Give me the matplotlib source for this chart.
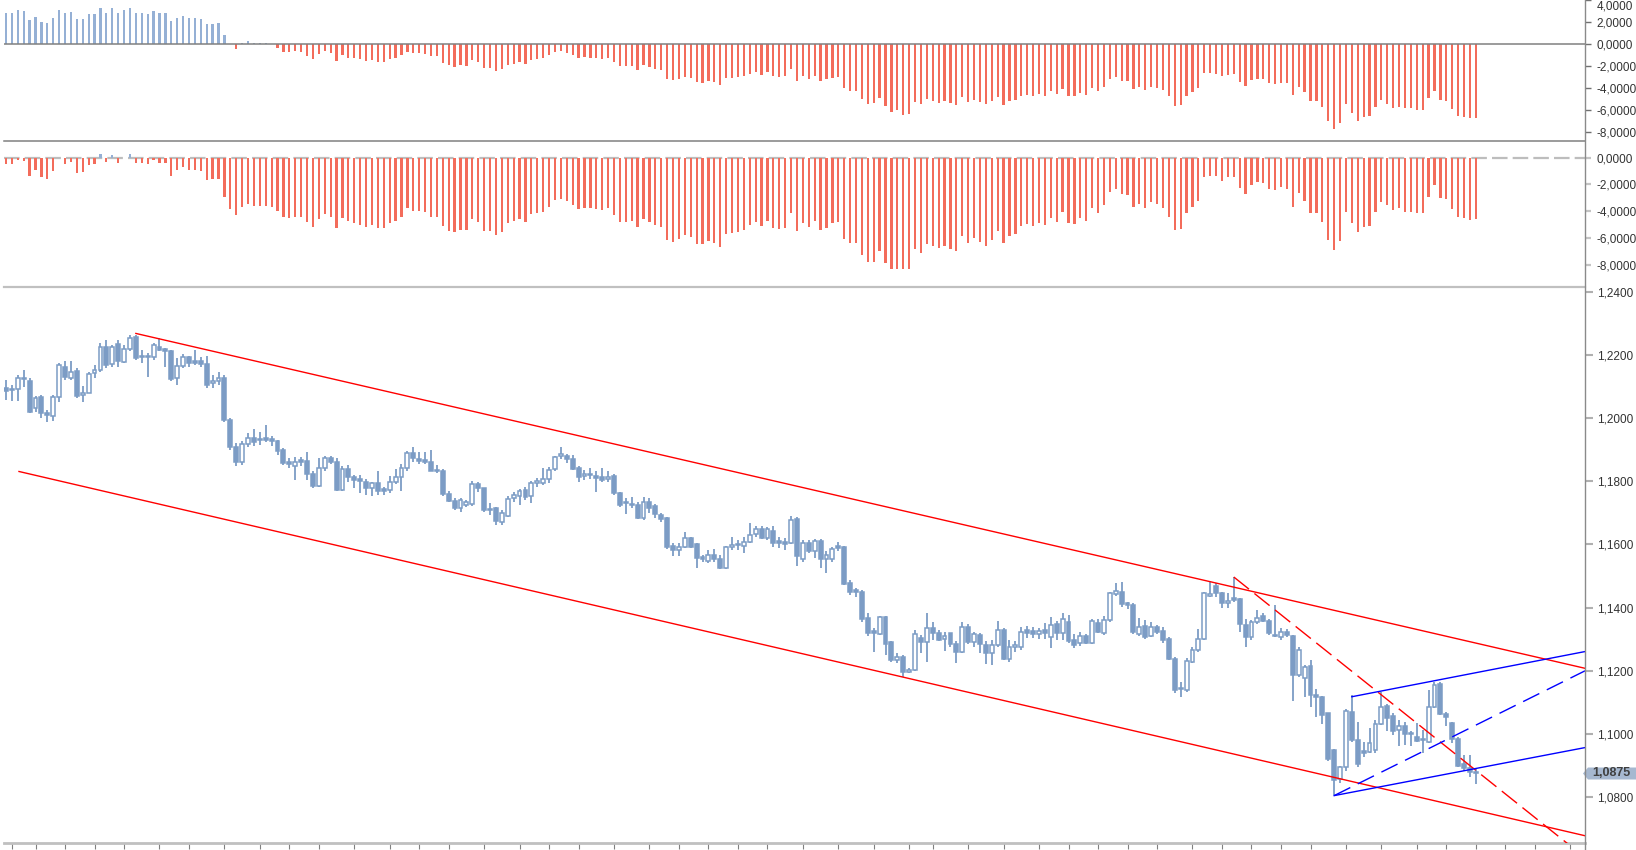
import matplotlib
matplotlib.use("Agg")
import matplotlib.pyplot as plt
import numpy as np
from matplotlib.lines import Line2D
from matplotlib.patches import Polygon
from matplotlib.transforms import blended_transform_factory, ScaledTranslation

plt.rcParams['font.family'] = ['Liberation Sans', 'DejaVu Sans']

# ---------------- data ----------------
opens = [
    1.2095, 1.2089, 1.2091, 1.2128, 1.2116, 1.2031, 1.2068, 1.2012, 1.2008, 1.2066,
    1.2161, 1.2128, 1.2149, 1.2073, 1.2081, 1.2142, 1.2153, 1.2226, 1.2171, 1.2235,
    1.2179, 1.2219, 1.2256, 1.2193, 1.2193, 1.2192, 1.2226, 1.2215, 1.2213, 1.2126,
    1.2166, 1.2193, 1.2178, 1.2182, 1.2171, 1.2110, 1.2118, 1.2126, 1.1994, 1.1907,
    1.1862, 1.1917, 1.1936, 1.1932, 1.1934, 1.1934, 1.1928, 1.1899, 1.1858, 1.1847,
    1.1863, 1.1865, 1.1822, 1.1786, 1.1841, 1.1873, 1.1860, 1.1773, 1.1839, 1.1812,
    1.1804, 1.1799, 1.1780, 1.1793, 1.1772, 1.1771, 1.1799, 1.1814, 1.1841, 1.1889,
    1.1866, 1.1868, 1.1862, 1.1835, 1.1834, 1.1759, 1.1738, 1.1715, 1.1725, 1.1727,
    1.1791, 1.1778, 1.1711, 1.1715, 1.1672, 1.1690, 1.1746, 1.1752, 1.1771, 1.1752,
    1.1796, 1.1794, 1.1807, 1.1838, 1.1880, 1.1880, 1.1870, 1.1841, 1.1817, 1.1824,
    1.1813, 1.1812, 1.1807, 1.1818, 1.1762, 1.1732, 1.1726, 1.1725, 1.1683, 1.1736,
    1.1722, 1.1694, 1.1683, 1.1596, 1.1583, 1.1593, 1.1622, 1.1601, 1.1556, 1.1549,
    1.1567, 1.1553, 1.1525, 1.1592, 1.1597, 1.1596, 1.1609, 1.1633, 1.1648, 1.1620,
    1.1643, 1.1607, 1.1604, 1.1604, 1.1680, 1.1553, 1.1604, 1.1578, 1.1612, 1.1553,
    1.1553, 1.1592, 1.1591, 1.1479, 1.1452, 1.1451, 1.1367, 1.1322, 1.1317, 1.1370,
    1.1290, 1.1233, 1.1245, 1.1195, 1.1203, 1.1305, 1.1290, 1.1337, 1.1319, 1.1300,
    1.1319, 1.1285, 1.1261, 1.1340, 1.1290, 1.1314, 1.1282, 1.1256, 1.1282, 1.1329,
    1.1237, 1.1274, 1.1275, 1.1329, 1.1327, 1.1317, 1.1329, 1.1308, 1.1347, 1.1321,
    1.1354, 1.1298, 1.1287, 1.1310, 1.1287, 1.1351, 1.1321, 1.1361, 1.1443, 1.1451,
    1.1416, 1.1409, 1.1317, 1.1342, 1.1310, 1.1340, 1.1327, 1.1300, 1.1237, 1.1143,
    1.1140, 1.1229, 1.1266, 1.1300, 1.1437, 1.1467, 1.1446, 1.1414, 1.1428, 1.1427,
    1.1345, 1.1306, 1.1356, 1.1372, 1.1359, 1.1312, 1.1308, 1.1324, 1.1310, 1.1187,
    1.1176, 1.1216, 1.1124, 1.1118, 1.1066, 1.0950, 1.0857, 1.0897, 1.1071, 1.0981,
    1.0942, 1.0944, 1.0948, 1.1032, 1.1089, 1.1057, 1.1013, 1.1026, 1.1001, 1.0990,
    1.0982, 1.0976, 1.1085, 1.1159, 1.1064, 1.1034, 1.0983, 1.0905, 1.0892, 1.0878,
]
highs = [
    1.2121, 1.2105, 1.2137, 1.2153, 1.2126, 1.2071, 1.2073, 1.2026, 1.2073, 1.2174,
    1.2181, 1.2181, 1.2158, 1.2102, 1.2147, 1.2168, 1.2237, 1.2248, 1.2232, 1.2248,
    1.2232, 1.2263, 1.2263, 1.2216, 1.2205, 1.2237, 1.2255, 1.2221, 1.2216, 1.2189,
    1.2202, 1.2195, 1.2216, 1.2193, 1.2198, 1.2137, 1.2147, 1.2135, 1.2000, 1.1920,
    1.1926, 1.1952, 1.1966, 1.1957, 1.1978, 1.1942, 1.1931, 1.1905, 1.1873, 1.1878,
    1.1878, 1.1894, 1.1831, 1.1873, 1.1881, 1.1880, 1.1873, 1.1847, 1.1852, 1.1820,
    1.1820, 1.1808, 1.1799, 1.1831, 1.1783, 1.1818, 1.1839, 1.1854, 1.1896, 1.1910,
    1.1894, 1.1894, 1.1899, 1.1852, 1.1839, 1.1768, 1.1746, 1.1748, 1.1741, 1.1801,
    1.1797, 1.1780, 1.1731, 1.1720, 1.1709, 1.1752, 1.1767, 1.1775, 1.1783, 1.1802,
    1.1810, 1.1841, 1.1844, 1.1880, 1.1910, 1.1887, 1.1884, 1.1849, 1.1836, 1.1841,
    1.1831, 1.1841, 1.1834, 1.1822, 1.1767, 1.1746, 1.1750, 1.1736, 1.1750, 1.1746,
    1.1728, 1.1701, 1.1686, 1.1604, 1.1606, 1.1641, 1.1625, 1.1604, 1.1567, 1.1583,
    1.1585, 1.1567, 1.1596, 1.1625, 1.1614, 1.1625, 1.1667, 1.1659, 1.1659, 1.1655,
    1.1657, 1.1623, 1.1620, 1.1690, 1.1688, 1.1615, 1.1615, 1.1617, 1.1617, 1.1578,
    1.1593, 1.1609, 1.1596, 1.1486, 1.1462, 1.1456, 1.1382, 1.1335, 1.1372, 1.1372,
    1.1293, 1.1256, 1.1251, 1.1210, 1.1330, 1.1314, 1.1382, 1.1356, 1.1330, 1.1324,
    1.1321, 1.1293, 1.1353, 1.1349, 1.1324, 1.1321, 1.1293, 1.1298, 1.1358, 1.1335,
    1.1298, 1.1293, 1.1340, 1.1342, 1.1340, 1.1335, 1.1351, 1.1370, 1.1359, 1.1384,
    1.1377, 1.1317, 1.1324, 1.1317, 1.1363, 1.1363, 1.1372, 1.1451, 1.1477, 1.1482,
    1.1419, 1.1416, 1.1366, 1.1361, 1.1356, 1.1345, 1.1340, 1.1308, 1.1243, 1.1166,
    1.1240, 1.1277, 1.1332, 1.1451, 1.1482, 1.1477, 1.1451, 1.1446, 1.1496, 1.1430,
    1.1363, 1.1361, 1.1393, 1.1382, 1.1363, 1.1409, 1.1335, 1.1332, 1.1314, 1.1275,
    1.1219, 1.1235, 1.1142, 1.1121, 1.1068, 1.0952, 1.0899, 1.1078, 1.1124, 1.1039,
    1.0976, 1.1018, 1.1045, 1.1134, 1.1095, 1.1066, 1.1045, 1.1039, 1.1008, 1.1034,
    1.1013, 1.1140, 1.1166, 1.1166, 1.1071, 1.1039, 1.0992, 1.0934, 1.0934, 1.0889,
]
lows = [
    1.2058, 1.2054, 1.2054, 1.2100, 1.2015, 1.2019, 1.2000, 1.1987, 1.1991, 1.2052,
    1.2121, 1.2121, 1.2063, 1.2050, 1.2079, 1.2126, 1.2147, 1.2158, 1.2163, 1.2163,
    1.2174, 1.2211, 1.2184, 1.2174, 1.2131, 1.2184, 1.2211, 1.2163, 1.2116, 1.2105,
    1.2158, 1.2163, 1.2168, 1.2163, 1.2095, 1.2095, 1.2105, 1.1989, 1.1899, 1.1847,
    1.1852, 1.1910, 1.1913, 1.1915, 1.1924, 1.1913, 1.1884, 1.1850, 1.1841, 1.1804,
    1.1847, 1.1804, 1.1778, 1.1783, 1.1833, 1.1854, 1.1770, 1.1770, 1.1799, 1.1778,
    1.1762, 1.1755, 1.1754, 1.1757, 1.1755, 1.1764, 1.1791, 1.1768, 1.1831, 1.1862,
    1.1854, 1.1854, 1.1831, 1.1826, 1.1752, 1.1736, 1.1709, 1.1704, 1.1720, 1.1723,
    1.1767, 1.1704, 1.1694, 1.1662, 1.1662, 1.1688, 1.1736, 1.1725, 1.1741, 1.1731,
    1.1783, 1.1789, 1.1794, 1.1834, 1.1870, 1.1859, 1.1836, 1.1799, 1.1804, 1.1807,
    1.1767, 1.1799, 1.1799, 1.1757, 1.1720, 1.1697, 1.1715, 1.1680, 1.1678, 1.1699,
    1.1683, 1.1672, 1.1585, 1.1562, 1.1562, 1.1588, 1.1588, 1.1525, 1.1546, 1.1541,
    1.1546, 1.1522, 1.1522, 1.1583, 1.1583, 1.1572, 1.1604, 1.1623, 1.1617, 1.1614,
    1.1591, 1.1588, 1.1583, 1.1602, 1.1532, 1.1546, 1.1572, 1.1556, 1.1525, 1.1511,
    1.1546, 1.1578, 1.1472, 1.1440, 1.1433, 1.1356, 1.1309, 1.1261, 1.1314, 1.1251,
    1.1229, 1.1226, 1.1182, 1.1193, 1.1201, 1.1256, 1.1229, 1.1298, 1.1293, 1.1264,
    1.1277, 1.1226, 1.1258, 1.1285, 1.1277, 1.1258, 1.1222, 1.1219, 1.1275, 1.1235,
    1.1229, 1.1261, 1.1266, 1.1303, 1.1303, 1.1300, 1.1300, 1.1271, 1.1298, 1.1298,
    1.1289, 1.1271, 1.1279, 1.1285, 1.1285, 1.1321, 1.1314, 1.1356, 1.1437, 1.1403,
    1.1395, 1.1317, 1.1310, 1.1300, 1.1306, 1.1317, 1.1289, 1.1235, 1.1129, 1.1118,
    1.1134, 1.1224, 1.1261, 1.1298, 1.1435, 1.1433, 1.1398, 1.1398, 1.1419, 1.1324,
    1.1275, 1.1298, 1.1348, 1.1353, 1.1314, 1.1306, 1.1298, 1.1306, 1.1103, 1.1182,
    1.1118, 1.1087, 1.1055, 1.1032, 1.0916, 1.0807, 1.0846, 1.0884, 1.0976, 1.0897,
    1.0926, 1.0939, 1.0941, 1.1029, 1.1008, 1.0997, 1.0962, 1.0965, 1.0962, 1.0976,
    1.0939, 1.0973, 1.1082, 1.1060, 1.1024, 1.0973, 1.0897, 1.0884, 1.0863, 1.0842,
]
closes = [
    1.2086, 1.2088, 1.2126, 1.2123, 1.2019, 1.2063, 1.2015, 1.2010, 1.2068, 1.2168,
    1.2131, 1.2147, 1.2070, 1.2081, 1.2140, 1.2153, 1.2224, 1.2168, 1.2226, 1.2182,
    1.2219, 1.2253, 1.2190, 1.2192, 1.2192, 1.2230, 1.2216, 1.2213, 1.2124, 1.2166,
    1.2193, 1.2174, 1.2176, 1.2172, 1.2105, 1.2119, 1.2128, 1.1994, 1.1907, 1.1860,
    1.1918, 1.1938, 1.1924, 1.1930, 1.1932, 1.1928, 1.1896, 1.1857, 1.1855, 1.1862,
    1.1861, 1.1822, 1.1786, 1.1841, 1.1873, 1.1862, 1.1773, 1.1839, 1.1812, 1.1804,
    1.1802, 1.1780, 1.1793, 1.1770, 1.1770, 1.1799, 1.1815, 1.1841, 1.1889, 1.1875,
    1.1864, 1.1860, 1.1833, 1.1831, 1.1759, 1.1738, 1.1715, 1.1741, 1.1736, 1.1791,
    1.1778, 1.1709, 1.1708, 1.1673, 1.1699, 1.1743, 1.1755, 1.1770, 1.1750, 1.1794,
    1.1798, 1.1808, 1.1836, 1.1876, 1.1882, 1.1870, 1.1838, 1.1815, 1.1824, 1.1819,
    1.1811, 1.1803, 1.1813, 1.1764, 1.1725, 1.1730, 1.1724, 1.1683, 1.1736, 1.1715,
    1.1697, 1.1680, 1.1593, 1.1583, 1.1593, 1.1622, 1.1593, 1.1556, 1.1554, 1.1567,
    1.1553, 1.1525, 1.1593, 1.1594, 1.1599, 1.1608, 1.1630, 1.1648, 1.1620, 1.1648,
    1.1606, 1.1605, 1.1602, 1.1678, 1.1562, 1.1606, 1.1578, 1.1611, 1.1553, 1.1566,
    1.1587, 1.1590, 1.1475, 1.1451, 1.1450, 1.1363, 1.1319, 1.1320, 1.1369, 1.1285,
    1.1235, 1.1243, 1.1195, 1.1203, 1.1316, 1.1290, 1.1334, 1.1319, 1.1298, 1.1309,
    1.1285, 1.1261, 1.1338, 1.1290, 1.1317, 1.1285, 1.1256, 1.1282, 1.1329, 1.1237,
    1.1274, 1.1282, 1.1323, 1.1319, 1.1317, 1.1325, 1.1321, 1.1345, 1.1321, 1.1365,
    1.1293, 1.1282, 1.1310, 1.1287, 1.1359, 1.1324, 1.1361, 1.1446, 1.1453, 1.1412,
    1.1409, 1.1324, 1.1340, 1.1306, 1.1340, 1.1324, 1.1298, 1.1237, 1.1140, 1.1141,
    1.1232, 1.1266, 1.1302, 1.1446, 1.1443, 1.1446, 1.1414, 1.1422, 1.1425, 1.1348,
    1.1306, 1.1355, 1.1368, 1.1359, 1.1319, 1.1309, 1.1323, 1.1314, 1.1187, 1.1266,
    1.1213, 1.1124, 1.1118, 1.1060, 1.0920, 1.0853, 1.0895, 1.1074, 1.0981, 1.0905,
    1.0940, 1.0971, 1.1032, 1.1087, 1.1050, 1.1011, 1.1024, 1.1000, 1.0999, 1.0979,
    1.0980, 1.1085, 1.1155, 1.1064, 1.1055, 1.0983, 1.0899, 1.0892, 1.0881, 1.0876,
]

# upper oscillator panel
osc_top = [
    2.82, 2.82, 3.09, 3.00, 2.18, 2.45, 2.00, 1.91, 2.36, 3.09,
    2.82, 2.91, 2.27, 2.27, 2.73, 2.73, 3.27, 2.82, 3.27, 2.82,
    3.09, 3.27, 2.82, 2.82, 2.73, 3.00, 2.82, 2.82, 2.09, 2.36,
    2.55, 2.36, 2.36, 2.27, 1.82, 1.82, 1.91, 0.82, 0.00, -0.45,
    0.09, 0.27, 0.09, 0.09, 0.09, 0.00, -0.36, -0.70, -0.70, -0.61,
    -0.70, -1.06, -1.36, -0.85, -0.61, -0.82, -1.52, -1.00, -1.27, -1.27,
    -1.36, -1.52, -1.42, -1.61, -1.61, -1.30, -1.21, -0.97, -0.67, -0.82,
    -0.82, -0.91, -1.06, -1.06, -1.73, -1.88, -2.06, -1.88, -1.97, -1.42,
    -1.61, -2.18, -2.18, -2.42, -2.27, -1.88, -1.76, -1.61, -1.76, -1.42,
    -1.36, -1.27, -0.97, -0.70, -0.61, -0.82, -1.00, -1.27, -1.18, -1.27,
    -1.27, -1.30, -1.27, -1.61, -1.97, -1.97, -1.97, -2.33, -1.88, -2.06,
    -2.21, -2.33, -3.18, -3.24, -3.12, -2.97, -3.09, -3.42, -3.55, -3.33,
    -3.42, -3.73, -3.09, -3.09, -2.97,
    -2.88, -2.73, -2.52, -2.82, -2.52, -2.88, -2.97, -2.88, -2.27, -3.33,
    -2.88, -3.12, -2.88, -3.33, -3.18, -3.09, -2.97, -3.94, -4.24, -4.24,
    -5.00, -5.45, -5.36, -4.91, -5.61, -6.15, -5.97, -6.42, -6.36, -5.24,
    -5.45, -5.00, -5.15, -5.30, -5.15, -5.30, -5.55, -4.79, -5.24, -5.06,
    -5.24, -5.45, -5.15, -4.79, -5.55, -5.15, -5.06, -4.70, -4.64, -4.70,
    -4.55, -4.70, -4.24, -4.55, -4.03, -4.70, -4.70, -4.45, -4.61, -3.97,
    -4.24, -3.88, -3.18, -2.97, -3.33, -3.33, -4.09, -3.88, -4.15, -3.88,
    -3.94, -4.15, -4.70, -5.61, -5.55, -4.70, -4.33, -3.97, -2.64, -2.58,
    -2.67, -2.88, -2.79, -2.67, -3.42, -3.79, -3.24, -3.18, -3.18, -3.48,
    -3.64, -3.48, -3.55, -4.64, -3.88, -4.33, -5.15, -5.15, -5.67, -6.97,
    -7.73, -7.12, -5.45, -6.21, -6.97, -6.58, -6.52, -5.67, -5.06, -5.45,
    -5.76, -5.67, -5.76, -5.76, -5.97, -5.97, -4.91, -4.24, -5.09, -5.15,
    -5.91, -6.52, -6.58, -6.70, -6.70,
]

# middle oscillator panel
osc_mid = [
    -0.47, -0.47, -0.17, -0.27, -1.37, -0.92, -1.47, -1.59, -1.02, 0.00,
    -0.47, -0.35, -1.17, -1.09, -0.57, -0.47, 0.25, -0.35, 0.17, -0.42,
    0.00, 0.25, -0.42, -0.42, -0.50, -0.20, -0.42, -0.42, -1.34, -0.95,
    -0.72, -0.95, -0.90, -1.02, -1.69, -1.62, -1.62, -2.96, -3.83, -4.30,
    -3.71, -3.48, -3.61, -3.58, -3.58, -3.71, -4.00, -4.45, -4.53, -4.40,
    -4.45, -4.83, -5.20, -4.58, -4.23, -4.40, -5.27, -4.53, -4.73, -4.90,
    -5.02, -5.15, -5.02, -5.27, -5.22, -4.90, -4.70, -4.40, -3.78, -3.98,
    -3.98, -4.08, -4.40, -4.40, -5.10, -5.45, -5.57, -5.40, -5.40, -4.60,
    -4.78, -5.47, -5.47, -5.77, -5.52, -4.90, -4.73, -4.58, -4.78, -4.23,
    -4.15, -4.03, -3.66, -3.16, -3.11, -3.21, -3.53, -3.86, -3.73, -3.78,
    -3.83, -3.91, -3.78, -4.28, -4.78, -4.78, -4.73, -5.20, -4.58, -4.78,
    -5.02, -5.20, -6.14, -6.32, -6.07, -5.77, -5.95, -6.47, -6.47, -6.22,
    -6.39, -6.69, -5.70, -5.65, -5.57,
    -5.40, -5.05, -4.78, -5.10, -4.73, -5.27, -5.35, -5.22, -4.15, -5.47,
    -4.90, -5.20, -4.73, -5.40, -5.22, -4.85, -4.80, -6.09, -6.39, -6.39,
    -7.26, -7.81, -7.81, -6.97, -7.89, -8.28, -8.28, -8.33, -8.33, -6.84,
    -7.14, -6.47, -6.59, -6.77, -6.57, -6.82, -6.97, -5.85, -6.39, -6.02,
    -6.32, -6.59, -6.14, -5.47, -6.39, -5.85, -5.70, -5.10, -4.98, -5.10,
    -4.90, -5.05, -4.53, -4.78, -4.08, -4.90, -4.95, -4.53, -4.75, -3.78,
    -4.15, -3.53, -2.54, -2.36, -2.71, -2.81, -3.71, -3.48, -3.78, -3.33,
    -3.46, -3.78, -4.45, -5.40, -5.35, -4.15, -3.66, -3.21, -1.47, -1.37,
    -1.37, -1.72, -1.42, -1.47, -2.29, -2.74, -2.04, -1.84, -1.92, -2.34,
    -2.41, -2.16, -2.36, -3.71, -2.66, -3.21, -4.15, -4.15, -4.78, -6.14,
    -6.89, -6.22, -4.03, -4.90, -5.57, -5.20, -5.07, -4.03, -3.28, -3.56,
    -3.91, -3.78, -4.03, -4.03, -4.15, -4.15, -2.91, -2.06, -2.99, -3.08,
    -3.86, -4.45, -4.53, -4.65, -4.60,
]

# bar positions of the (unlabelled) time ticks
time_ticks = [1, 5, 10, 15, 20, 26, 31, 37, 43, 48, 53, 59, 65, 70, 75, 81, 87,
              92, 97, 103, 109, 114, 119, 124, 129, 135, 141, 147, 153, 157, 163,
              169, 175, 180, 185, 190, 195, 201, 206, 211, 216, 221, 227, 233,
              239, 244, 249, 254, 259, 265]
price_ticks = [1.24, 1.22, 1.20, 1.18, 1.16, 1.14, 1.12, 1.10, 1.08]
top_ticks = [4, 2, 0, -2, -4, -6, -8]
mid_ticks = [0, -2, -4, -6, -8]

# drawn trend lines (bar index, price)
channel_upper = ([22.0, 267.5], [1.2268, 1.1208])
channel_lower = ([2.2, 267.5], [1.1831, 1.0678])
red_dashed = ([208.0, 267.5], [1.1497, 1.0609])
blue_upper = ([228.0, 267.5], [1.1118, 1.1261])
blue_lower = ([225.0, 267.5], [1.0805, 1.0957])
blue_dashed = ([225.0, 267.5], [1.0805, 1.1200])
last_price = 1.0875

# ---------------- figure ----------------
W_PX, H_PX = 1636, 850
fig = plt.figure(figsize=(W_PX / 100, H_PX / 100), dpi=100)
fig.patch.set_facecolor('white')

AX_L, AX_R = 4, 1585
left = AX_L / W_PX
width = (AX_R - AX_L) / W_PX
ax1 = fig.add_axes([left, 1 - 141 / H_PX, width, 141 / H_PX])
ax2 = fig.add_axes([left, 1 - 287 / H_PX, width, (287 - 141) / H_PX])
ax3 = fig.add_axes([left, 1 - 843 / H_PX, width, (843 - 287) / H_PX])

XLIM = (-0.34, 267.5)
LABEL_COLOR = '#333333'


def fmt(v, nd=4):
    s = f"{v:.{nd}f}".replace('.', ',')
    if s.startswith('-') and float(v) == 0:
        s = s[1:]
    return s


for ax in (ax1, ax2, ax3):
    ax.set_xlim(*XLIM)
    ax.set_facecolor('none')
    for s in ('top', 'left', 'bottom', 'right'):
        ax.spines[s].set_visible(False)
    ax.yaxis.tick_right()
    ax.tick_params(axis='y', which='both', left=False, right=True,
                   labelleft=False, labelright=True, direction='out',
                   length=4.5, pad=3.8, labelsize=8.5, labelcolor=LABEL_COLOR)
    ax.tick_params(axis='x', which='both', bottom=False, top=False,
                   labelbottom=False, labeltop=False)

x = np.arange(len(closes))

# ---- top panel ----
top_v = np.array(osc_top)
ax1.set_ylim(-8.79, 4.03)
ax1.bar(x, top_v, width=0.38,
        color=np.where(top_v >= 0, '#95b0d5', '#f36c5b'), linewidth=0, zorder=2)
ax1.axhline(0, color='#808080', lw=1.1, zorder=3)
ax1.set_yticks(top_ticks)
ax1.set_yticklabels([fmt(t) for t in top_ticks])
ax1.tick_params(axis='y', colors='#707070', labelcolor=LABEL_COLOR, width=1)
# the top-most label sits slightly inside the panel, as in the original
top_lab = ax1.get_yticklabels()[0]
top_lab.set_transform(top_lab.get_transform() +
                      ScaledTranslation(0, -5 / 100, fig.dpi_scale_trans))
ax1.spines['bottom'].set_visible(True)
ax1.spines['bottom'].set_color('#808080')
ax1.spines['bottom'].set_linewidth(1.1)

# ---- middle panel ----
mid_v = np.array(osc_mid)
ax2.set_ylim(-9.66, 1.25)
ax2.axhline(0, color='#bdbdbd', lw=1.6, dashes=(7, 2.3), zorder=1)
ax2.bar(x, mid_v, width=0.38,
        color=np.where(mid_v >= 0, '#95b0d5', '#f36c5b'), linewidth=0, zorder=2)
ax2.set_yticks(mid_ticks)
ax2.set_yticklabels([fmt(t) for t in mid_ticks])
ax2.tick_params(axis='y', colors='#c4c4c4', labelcolor=LABEL_COLOR, width=1.6)
ax2.spines['bottom'].set_visible(True)
ax2.spines['bottom'].set_color('#c0c0c0')
ax2.spines['bottom'].set_linewidth(1.6)

# ---- price panel ----
o = np.array(opens)
h = np.array(highs)
l = np.array(lows)
c = np.array(closes)
CC = '#7c9cc5'
ax3.set_ylim(1.0655, 1.2415)
ax3.vlines(x, l, h, color=CC, lw=1.3, zorder=2)
up = c >= o
body_lo = np.minimum(o, c)
body_h = np.maximum(np.abs(c - o), 0.0005)
ax3.bar(x[up], body_h[up], bottom=body_lo[up], width=0.66,
        facecolor='white', edgecolor=CC, linewidth=1.1, zorder=3)
ax3.bar(x[~up], body_h[~up], bottom=body_lo[~up], width=0.66,
        facecolor=CC, edgecolor=CC, linewidth=1.1, zorder=3)

ax3.plot(*channel_upper, color='#ff0000', lw=1.0, zorder=4)
ax3.plot(*channel_lower, color='#ff0000', lw=1.0, zorder=4)
ax3.plot(*red_dashed, color='#ff0000', lw=1.0, dashes=(14, 5), zorder=4)
ax3.plot(*blue_upper, color='#0000ff', lw=1.0, zorder=4)
ax3.plot(*blue_lower, color='#0000ff', lw=1.0, zorder=4)
ax3.plot(*blue_dashed, color='#0000ff', lw=1.0, dashes=(13, 6), zorder=4)

ax3.set_yticks(price_ticks)
ax3.set_yticklabels([fmt(t) for t in price_ticks])
ax3.tick_params(axis='y', colors='#b0b0b0', labelcolor=LABEL_COLOR, width=1.5,
                length=5.5, pad=3)
ax3.set_xticks(time_ticks)
ax3.tick_params(axis='x', bottom=True, labelbottom=False, direction='out',
                length=4.5, width=0.8, colors='#808080')
ax3.spines['bottom'].set_visible(True)
ax3.spines['bottom'].set_color('#c0c0c0')
ax3.spines['bottom'].set_linewidth(2.0)

# right-hand vertical axis line over the whole height
fig.add_artist(Line2D([AX_R / W_PX, AX_R / W_PX], [0, 1],
                      transform=fig.transFigure, color='#8a8a8a', lw=1.0))

# last price marker
tr = blended_transform_factory(fig.transFigure, ax3.transData)
half = 0.0019
tip = 1583 / W_PX
box_l = 1588 / W_PX
poly = Polygon([(tip, last_price), (box_l, last_price + half), (1.0, last_price + half),
                (1.0, last_price - half), (box_l, last_price - half)],
               closed=True, transform=tr, facecolor='#a6b8d0', edgecolor='none',
               clip_on=False, zorder=10)
ax3.add_artist(poly)
ax3.text(1611 / W_PX, last_price, fmt(last_price), transform=tr,
         ha='center', va='center', fontsize=9, fontweight='bold',
         color='#404040', clip_on=False, zorder=11)

fig.savefig('out.png', dpi=100, facecolor='white')
